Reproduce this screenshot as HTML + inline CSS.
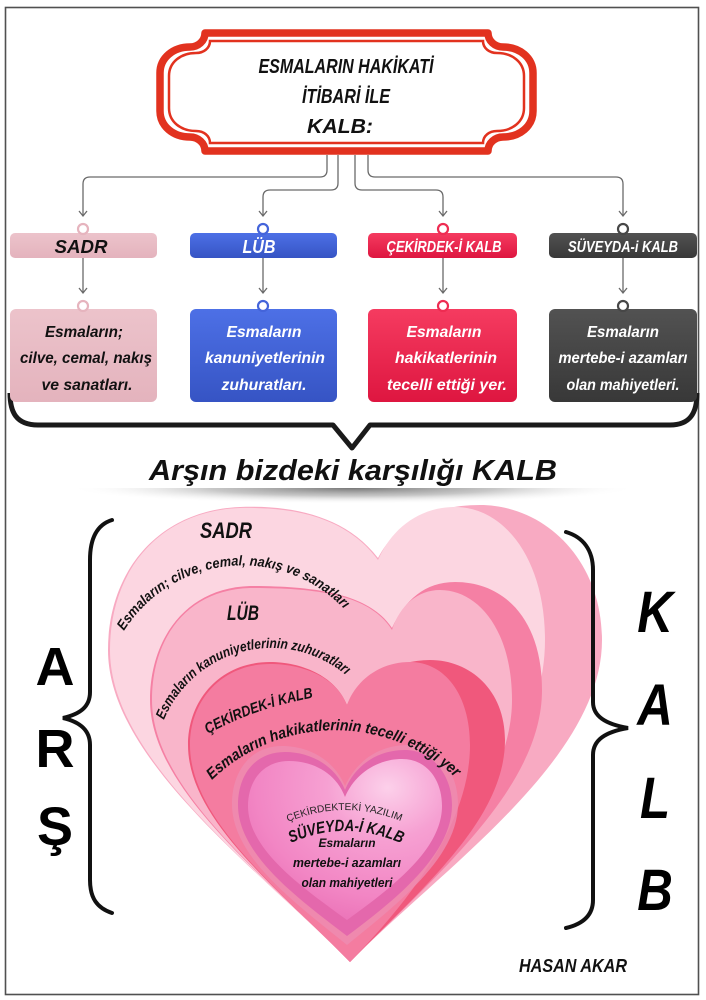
<!DOCTYPE html>
<html><head><meta charset="utf-8"><style>
html,body{margin:0;padding:0;background:#fff}
svg{display:block}
text{font-family:"Liberation Sans","DejaVu Sans",sans-serif;font-weight:bold;font-style:italic}
</style></head><body>
<svg width="706" height="1000" viewBox="0 0 706 1000" xmlns="http://www.w3.org/2000/svg">
<defs>
<linearGradient id="gPink" x1="0" y1="0" x2="0" y2="1"><stop offset="0" stop-color="#ecc3cb"/><stop offset="1" stop-color="#e4b3bd"/></linearGradient>
<linearGradient id="gBlue" x1="0" y1="0" x2="0" y2="1"><stop offset="0" stop-color="#4d70e6"/><stop offset="1" stop-color="#3654c4"/></linearGradient>
<linearGradient id="gRed" x1="0" y1="0" x2="0" y2="1"><stop offset="0" stop-color="#f53b60"/><stop offset="1" stop-color="#de1640"/></linearGradient>
<linearGradient id="gDark" x1="0" y1="0" x2="0" y2="1"><stop offset="0" stop-color="#525252"/><stop offset="1" stop-color="#383838"/></linearGradient>
<radialGradient id="gFace" cx="0.72" cy="0.18" r="0.9"><stop offset="0" stop-color="#fcd0ea"/><stop offset="0.35" stop-color="#f6a0d2"/><stop offset="0.75" stop-color="#f286c4"/><stop offset="1" stop-color="#ea70b6"/></radialGradient>
<radialGradient id="shg"><stop offset="0" stop-color="#707070" stop-opacity="0.95"/><stop offset="0.5" stop-color="#9a9a9a" stop-opacity="0.55"/><stop offset="1" stop-color="#ffffff" stop-opacity="0"/></radialGradient>
<clipPath id="shc"><rect x="0" y="488" width="706" height="30"/></clipPath>
<path id="arc1" d="M 124,631 A 140 140 0 0 1 346,611"/>
<path id="arc2" d="M 164,720 A 116 116 0 0 1 347,676"/>
<path id="arc3" d="M 212,780 A 177 177 0 0 1 458,780"/>
<path id="arcC" d="M 208,734 Q 255,708 316,697"/>
<path id="arcY" d="M 288,822 Q 345,798 403,822"/>
<path id="arcS" d="M 291,843 Q 346,818 405,845"/>
</defs>

<!-- frame -->
<rect x="5.5" y="7.5" width="693" height="987" fill="none" stroke="#505050" stroke-width="1.6"/>

<!-- title plaque -->
<path d="M 205,33 L 488,33 C 488,41 495,47 503,47 C 520,47 533,58 533,73 L 533,111 C 533,126 520,137 503,137 C 495,137 488,143 488,151 L 205,151 C 205,143 198,137 190,137 C 173,137 160,126 160,111 L 160,73 C 160,58 173,47 190,47 C 198,47 205,41 205,33 Z" fill="#fff" stroke="#e2321f" stroke-width="7.5" stroke-linejoin="round"/>
<path d="M 210,41 L 483,41 C 483,48 489,53 497,53 C 512,53 524,62 524,76 L 524,108 C 524,122 512,131 497,131 C 489,131 483,136 483,143 L 210,143 C 210,136 204,131 196,131 C 181,131 169,122 169,108 L 169,76 C 169,62 181,53 196,53 C 204,53 210,48 210,41 Z" fill="none" stroke="#e2321f" stroke-width="2.5"/>
<text x="346" y="73" font-size="20" text-anchor="middle" textLength="175" lengthAdjust="spacingAndGlyphs" fill="#111">ESMALARIN HAKİKATİ</text>
<text x="346" y="103" font-size="20" text-anchor="middle" textLength="88" lengthAdjust="spacingAndGlyphs" fill="#111">İTİBARİ İLE</text>
<text x="340" y="133" font-size="20" text-anchor="middle" textLength="66" lengthAdjust="spacingAndGlyphs" fill="#111">KALB:</text>

<!-- connectors -->
<g fill="none" stroke="#6a6a6a" stroke-width="1.3">
<path d="M 327,155 L 327,170 Q 327,177 320,177 L 90,177 Q 83,177 83,184 L 83,216"/>
<path d="M 338,155 L 338,183 Q 338,190 331,190 L 270,190 Q 263,190 263,197 L 263,216"/>
<path d="M 355,155 L 355,183 Q 355,190 362,190 L 436,190 Q 443,190 443,197 L 443,216"/>
<path d="M 368,155 L 368,170 Q 368,177 375,177 L 616,177 Q 623,177 623,184 L 623,216"/>
<path d="M 79,211 L 83,216 L 87,211 M 259,211 L 263,216 L 267,211 M 439,211 L 443,216 L 447,211 M 619,211 L 623,216 L 627,211"/>
<path d="M 83,258 L 83,293 M 263,258 L 263,293 M 443,258 L 443,293 M 623,258 L 623,293"/>
<path d="M 79,288 L 83,293 L 87,288 M 259,288 L 263,293 L 267,288 M 439,288 L 443,293 L 447,288 M 619,288 L 623,293 L 627,288"/>
</g>

<!-- big bracket under boxes -->
<path d="M 10,393 C 10,412 16,425 38,425 L 333,425 L 352,448 L 370,425 L 670,425 C 690,425 697,413 697,393" fill="none" stroke="#1a1a1a" stroke-width="5" stroke-linejoin="round"/>

<!-- header boxes -->
<rect x="10" y="233" width="147" height="25" rx="5" fill="url(#gPink)"/>
<rect x="190" y="233" width="147" height="25" rx="5" fill="url(#gBlue)"/>
<rect x="368" y="233" width="149" height="25" rx="5" fill="url(#gRed)"/>
<rect x="549" y="233" width="148" height="25" rx="5" fill="url(#gDark)"/>
<g fill="#fff" stroke-width="2.2">
<circle cx="83" cy="229" r="5" stroke="#e6b4be"/>
<circle cx="263" cy="229" r="5" stroke="#4464da"/>
<circle cx="443" cy="229" r="5" stroke="#ee2c52"/>
<circle cx="623" cy="229" r="5" stroke="#474747"/>
</g>
<text x="81" y="253" font-size="18" text-anchor="middle" textLength="53" lengthAdjust="spacingAndGlyphs" fill="#111">SADR</text>
<text x="259" y="253" font-size="18" text-anchor="middle" textLength="33" lengthAdjust="spacingAndGlyphs" fill="#fff">LÜB</text>
<text x="444" y="252" font-size="16" text-anchor="middle" textLength="115" lengthAdjust="spacingAndGlyphs" fill="#fff">ÇEKİRDEK-İ KALB</text>
<text x="623" y="252" font-size="16" text-anchor="middle" textLength="110" lengthAdjust="spacingAndGlyphs" fill="#fff">SÜVEYDA-i KALB</text>

<!-- content boxes -->
<rect x="10" y="309" width="147" height="93" rx="6" fill="url(#gPink)"/>
<rect x="190" y="309" width="147" height="93" rx="6" fill="url(#gBlue)"/>
<rect x="368" y="309" width="149" height="93" rx="6" fill="url(#gRed)"/>
<rect x="549" y="309" width="148" height="93" rx="6" fill="url(#gDark)"/>
<g fill="#fff" stroke-width="2.2">
<circle cx="83" cy="306" r="5" stroke="#e6b4be"/>
<circle cx="263" cy="306" r="5" stroke="#4464da"/>
<circle cx="443" cy="306" r="5" stroke="#ee2c52"/>
<circle cx="623" cy="306" r="5" stroke="#474747"/>
</g>
<g font-size="15.5" text-anchor="middle">
<text x="84" y="337" textLength="78" lengthAdjust="spacingAndGlyphs" fill="#111">Esmaların;</text>
<text x="86" y="363" textLength="132" lengthAdjust="spacingAndGlyphs" fill="#111">cilve, cemal, nakış</text>
<text x="87" y="390" textLength="91" lengthAdjust="spacingAndGlyphs" fill="#111">ve sanatları.</text>
<text x="264" y="337" textLength="75" lengthAdjust="spacingAndGlyphs" fill="#fff">Esmaların</text>
<text x="265" y="363" textLength="120" lengthAdjust="spacingAndGlyphs" fill="#fff">kanuniyetlerinin</text>
<text x="264" y="390" textLength="85" lengthAdjust="spacingAndGlyphs" fill="#fff">zuhuratları.</text>
<text x="444" y="337" textLength="75" lengthAdjust="spacingAndGlyphs" fill="#fff">Esmaların</text>
<text x="446" y="363" textLength="102" lengthAdjust="spacingAndGlyphs" fill="#fff">hakikatlerinin</text>
<text x="447" y="390" textLength="120" lengthAdjust="spacingAndGlyphs" fill="#fff">tecelli ettiği yer.</text>
<text x="623" y="337" textLength="72" lengthAdjust="spacingAndGlyphs" fill="#fff">Esmaların</text>
<text x="623" y="363" textLength="129" lengthAdjust="spacingAndGlyphs" fill="#fff">mertebe-i azamları</text>
<text x="623" y="390" textLength="113" lengthAdjust="spacingAndGlyphs" fill="#fff">olan mahiyetleri.</text>
</g>

<!-- heading -->
<text x="353" y="480" font-size="29" text-anchor="middle" textLength="408" lengthAdjust="spacingAndGlyphs" fill="#111">Arşın bizdeki karşılığı KALB</text>
<ellipse cx="353" cy="488" rx="285" ry="16" fill="url(#shg)" clip-path="url(#shc)"/>

<!-- hearts -->
<path d="M 378,558 C 345,515 290,505 240,507 C 160,510 108,570 108,650 C 108,760 260,870 350,962 C 440,870 602,760 602,640 C 602,560 545,505 480,505 C 430,505 395,525 378,558 Z" fill="#f8aac2"/>
<path d="M 378,560 C 345,515 290,507 240,508 C 160,511 110,570 110,650 C 110,760 260,870 350,962 C 430,880 545,760 545,640 C 545,560 505,507 455,507 C 420,507 392,528 378,560 Z" fill="#fcd6e1"/>
<path d="M 392,628 C 370,595 320,586 250,586 C 185,588 150,640 150,700 C 150,790 270,880 350,962 C 430,880 542,790 542,690 C 542,620 505,582 455,582 C 425,582 405,600 392,628 Z" fill="#f580a4"/>
<path d="M 392,630 C 370,595 320,588 250,588 C 185,590 152,640 152,700 C 152,790 270,880 350,962 C 425,885 512,790 512,700 C 512,630 478,590 440,590 C 418,590 400,605 392,630 Z" fill="#f9b5ca"/>
<path d="M 347,705 C 335,675 300,662 270,662 C 220,662 188,700 188,745 C 188,820 280,890 350,962 C 420,890 505,820 505,740 C 505,690 470,660 430,660 C 395,660 358,680 347,705 Z" fill="#f0587c"/>
<path d="M 347,705 C 335,675 300,664 270,664 C 222,664 190,700 190,745 C 190,820 280,890 350,962 C 415,895 470,820 470,745 C 470,695 445,662 410,662 C 380,662 356,680 347,705 Z" fill="#f47ca0"/>
<path d="M 345,786 C 333,758 307,746 282,746 C 250,746 232,772 232,804 C 232,858 298,905 347,945 C 396,905 458,858 458,804 C 458,772 438,745 408,745 C 380,745 357,760 345,786 Z" fill="#ee8cb2" opacity="0.8"/>
<path d="M 345,790 C 335,765 310,752 285,752 C 255,752 238,775 238,805 C 238,855 300,900 347,936 C 395,900 452,855 452,805 C 452,775 432,750 405,750 C 378,750 355,765 345,790 Z" fill="#e468ac"/>
<path d="M 345,797 C 336,773 313,761 289,761 C 263,761 248,781 248,806 C 248,850 303,888 347,920 C 391,888 442,850 442,806 C 442,780 427,759 402,759 C 378,759 355,773 345,797 Z" fill="url(#gFace)"/>

<!-- heart texts -->
<g fill="#111">
<text x="226" y="538" font-size="22" text-anchor="middle" textLength="52" lengthAdjust="spacingAndGlyphs">SADR</text>
<text font-size="14"><textPath href="#arc1" textLength="255" lengthAdjust="spacingAndGlyphs">Esmaların; cilve, cemal, nakış ve sanatları</textPath></text>
<text x="243" y="620" font-size="21" text-anchor="middle" textLength="32" lengthAdjust="spacingAndGlyphs">LÜB</text>
<text font-size="14"><textPath href="#arc2" textLength="218" lengthAdjust="spacingAndGlyphs">Esmaların kanuniyetlerinin zuhuratları</textPath></text>
<text font-size="15"><textPath href="#arcC" textLength="112" lengthAdjust="spacingAndGlyphs">ÇEKİRDEK-İ KALB</textPath></text>
<text font-size="15.5"><textPath href="#arc3" textLength="268" lengthAdjust="spacingAndGlyphs">Esmaların hakikatlerinin  tecelli ettiği yer</textPath></text>
<text font-size="10" font-style="normal" font-weight="normal" fill="#222" style="font-style:normal;font-weight:normal"><textPath href="#arcY" textLength="116" lengthAdjust="spacingAndGlyphs">ÇEKİRDEKTEKİ YAZILIM</textPath></text>
<text font-size="16.5"><textPath href="#arcS" textLength="114" lengthAdjust="spacingAndGlyphs">SÜVEYDA-İ KALB</textPath></text>
<text x="347" y="847" font-size="12" text-anchor="middle" textLength="57" lengthAdjust="spacingAndGlyphs">Esmaların</text>
<text x="347" y="867" font-size="13" text-anchor="middle" textLength="108" lengthAdjust="spacingAndGlyphs">mertebe-i azamları</text>
<text x="347" y="887" font-size="13" text-anchor="middle" textLength="91" lengthAdjust="spacingAndGlyphs">olan mahiyetleri</text>
</g>

<!-- braces -->
<path d="M 112,520 C 96,525 90,540 90,560 L 90,692 C 90,707 80,714 63,718 C 80,722 90,730 90,745 L 90,880 C 90,898 97,908 112,913" fill="none" stroke="#111" stroke-width="4" stroke-linecap="round"/>
<path d="M 566,532 C 583,537 593,550 593,570 L 593,702 C 593,716 605,724 628,728 C 605,732 593,740 593,755 L 593,900 C 593,915 583,924 566,928" fill="none" stroke="#111" stroke-width="4" stroke-linecap="round"/>

<!-- side letters -->
<g fill="#000" font-size="54" text-anchor="middle">
<text x="55" y="685" style="font-style:normal">A</text>
<text x="55" y="767" style="font-style:normal">R</text>
<text x="55" y="845" style="font-style:normal">Ş</text>
</g>
<g transform="translate(655,0) scale(0.85,1)" fill="#000" font-size="58" text-anchor="middle">
<text x="0" y="632">K</text>
<text x="0" y="725">A</text>
<text x="0" y="818">L</text>
<text x="0" y="910">B</text>
</g>

<text x="573" y="972" font-size="18" text-anchor="middle" textLength="108" lengthAdjust="spacingAndGlyphs" fill="#111">HASAN AKAR</text>
</svg>
</body></html>
